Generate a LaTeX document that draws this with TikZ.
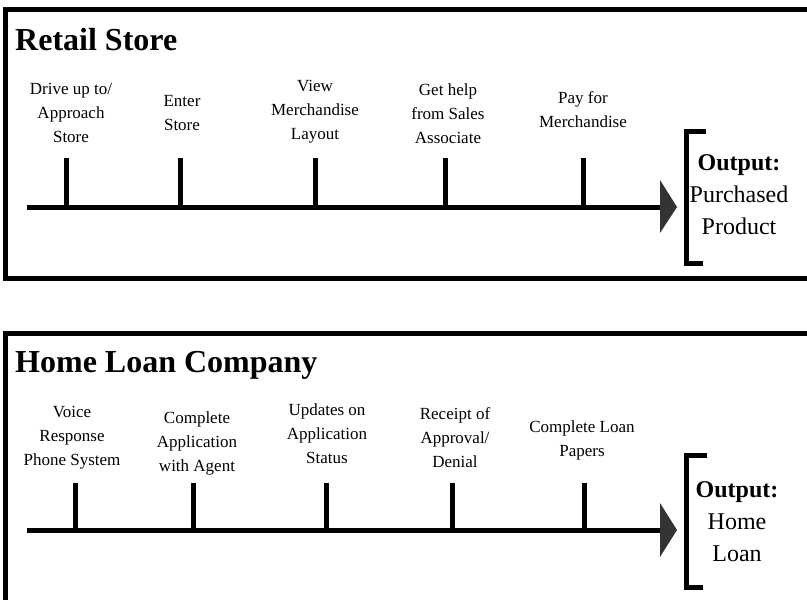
\documentclass[tikz,border=0pt]{standalone}
\usepackage{fontspec}
\setmainfont{Liberation Serif}
\begin{document}
\begin{tikzpicture}[x=1pt,y=-1pt,
  frame/.style={line width=5pt},
  axisline/.style={line width=5pt},
  tickline/.style={line width=5pt},
  bracketline/.style={line width=5pt},
  tipfill/.style={fill=black!80,draw=none},
  lbl/.style={align=center,font=\fontsize{17}{24}\selectfont,inner sep=0pt},
  ttl/.style={anchor=base west,font=\fontsize{32}{36}\selectfont\bfseries,inner sep=0pt},
  outp/.style={align=center,font=\fontsize{24}{32}\selectfont,inner sep=0pt}]
\useasboundingbox (0,0) rectangle (807,600);
\clip (0,0) rectangle (807,600);

% ---------------- Box 1: Retail Store ----------------
\coordinate (f1a) at (815,9.5);
\coordinate (f1b) at (5.5,9.5);
\coordinate (f1c) at (5.5,278);
\coordinate (f1d) at (815,278);
\draw[frame] (f1a) -- (f1b) -- (f1c) -- (f1d);

\node[ttl] (title1) at (15,50) {Retail Store};

\coordinate (s1) at (27,207);
\coordinate (e1) at (661,207);
\draw[axisline] (s1) -- (e1);
\coordinate (a1) at (660,180);
\coordinate (b1) at (677,207);
\coordinate (c1) at (660,233);
\fill[tipfill] (a1) -- (b1) -- (c1) -- cycle;

\coordinate (t1a) at (66,158);
\coordinate (t1b) at (180,158);
\coordinate (t1c) at (315,158);
\coordinate (t1d) at (445,158);
\coordinate (t1e) at (583,158);
\foreach \t in {t1a,t1b,t1c,t1d,t1e}
  \draw[tickline] (\t) -- (\t |- s1);

\node[lbl] (l1a) at (71,113) {Drive up to/\\Approach\\Store};
\node[lbl] (l1b) at (182,113) {Enter\\Store};
\node[lbl] (l1c) at (315,112) {View\\Merchandise\\Layout};
\node[lbl] (l1d) at (448,114) {Get help\\from Sales\\Associate};
\node[lbl] (l1e) at (583,110) {Pay for\\Merchandise};

\coordinate (k1a) at (706,131.5);
\coordinate (k1b) at (686,131.5);
\coordinate (k1c) at (686,263);
\coordinate (k1d) at (703,263);
\draw[bracketline] (k1a) -- (k1b) -- (k1c) -- (k1d);
\node[outp] (o1) at (739,195) {\textbf{Output:}\\Purchased\\Product};

% ---------------- Box 2: Home Loan Company ----------------
\coordinate (f2a) at (815,333);
\coordinate (f2b) at (5.5,333);
\coordinate (f2c) at (5.5,610);
\draw[frame] (f2a) -- (f2b) -- (f2c);

\node[ttl] (title2) at (15,372) {Home Loan Company};

\coordinate (s2) at (27,530);
\coordinate (e2) at (661,530);
\draw[axisline] (s2) -- (e2);
\coordinate (a2) at (660,503);
\coordinate (b2) at (677,530);
\coordinate (c2) at (660,557);
\fill[tipfill] (a2) -- (b2) -- (c2) -- cycle;

\coordinate (t2a) at (75,483);
\coordinate (t2b) at (193,483);
\coordinate (t2c) at (326,483);
\coordinate (t2d) at (452,483);
\coordinate (t2e) at (584,483);
\foreach \t in {t2a,t2b,t2c,t2d,t2e}
  \draw[tickline] (\t) -- (\t |- s2);

\node[lbl] (l2a) at (72,438) {Voice\\Response\\Phone System};
\node[lbl] (l2b) at (197,443) {Complete\\Application\\with Agent};
\node[lbl] (l2c) at (327,434) {Updates on\\Application\\Status};
\node[lbl] (l2d) at (455,438) {Receipt of\\Approval/\\Denial};
\node[lbl] (l2e) at (582,440) {Complete Loan\\Papers};

\coordinate (k2a) at (707,455.5);
\coordinate (k2b) at (686.5,455.5);
\coordinate (k2c) at (686.5,587);
\coordinate (k2d) at (703,587);
\draw[bracketline] (k2a) -- (k2b) -- (k2c) -- (k2d);
\node[outp] (o2) at (737,522) {\textbf{Output:}\\Home\\Loan};
\end{tikzpicture}
\end{document}
